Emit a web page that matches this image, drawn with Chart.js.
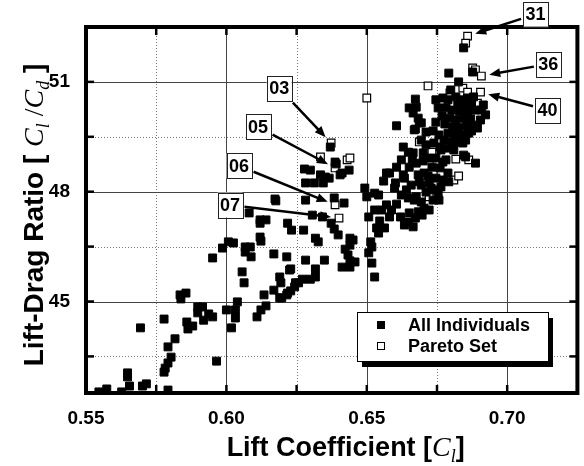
<!DOCTYPE html>
<html>
<head>
<meta charset="utf-8">
<script src="https://cdn.jsdelivr.net/npm/chart.js@4.4.1/dist/chart.umd.min.js"></script>
<style>
  html, body { margin: 0; padding: 0; background: #fff; }
  #wrap { width: 584px; height: 466px; }
</style>
</head>
<body>
<div id="wrap"><canvas id="chart" width="584" height="466"></canvas></div>
<script>
// All individuals: lift coefficient and lift-drag ratio
const allCl = [
  0.5546, 0.5574, 0.5627, 0.5648, 0.5648, 0.5655, 0.5694, 0.5701, 0.5715, 0.5778,
  0.5782, 0.5792, 0.5803, 0.5792, 0.5817, 0.5792, 0.5778, 0.5835, 0.5856, 0.5838,
  0.5859, 0.5880, 0.5863, 0.5898, 0.5915, 0.5898, 0.5937, 0.5951, 0.5919, 0.5965,
  0.5951, 0.5986, 0.6007, 0.6025, 0.6000, 0.6018, 0.6032, 0.6032, 0.6039, 0.6056,
  0.6063, 0.6067, 0.6085, 0.6067, 0.6088, 0.6120, 0.6123, 0.6169, 0.6215, 0.6229,
  0.6190, 0.6194, 0.6169, 0.6197, 0.6218, 0.6246, 0.6134, 0.6109, 0.6123, 0.6141,
  0.6081, 0.6176, 0.6282, 0.6384, 0.6419, 0.6120, 0.6141, 0.6120, 0.6218, 0.6232,
  0.6275, 0.6306, 0.6342, 0.6373, 0.6384, 0.6398, 0.6317, 0.6327, 0.6282, 0.6349,
  0.6451, 0.6440, 0.6423, 0.6433, 0.6440, 0.6458, 0.6412, 0.6440, 0.6514, 0.6507,
  0.6518, 0.6528, 0.6225, 0.6317, 0.6271, 0.6257, 0.6243, 0.6229, 0.6215, 0.6299,
  0.6317, 0.6190, 0.6370, 0.6387, 0.6278, 0.6299, 0.6335, 0.6352, 0.6366, 0.6405,
  0.6282, 0.6313, 0.6345, 0.6173, 0.6437, 0.6412, 0.6391, 0.6606, 0.6673, 0.6687,
  0.6630, 0.6648, 0.6665, 0.6701, 0.6623, 0.6662, 0.6701, 0.6606, 0.6651, 0.6676,
  0.6581, 0.6630, 0.6683, 0.6704, 0.6560, 0.6602, 0.6634, 0.6687, 0.6599, 0.6722,
  0.6711, 0.6729, 0.6676, 0.6694, 0.6704, 0.6493, 0.6500, 0.6528, 0.6542, 0.6606,
  0.6581, 0.6620, 0.6651, 0.6673, 0.6665, 0.6546, 0.6535, 0.6563, 0.6542, 0.6440,
  0.6518, 0.6669, 0.6683, 0.6736, 0.6757, 0.6764, 0.6792, 0.6570, 0.6792, 0.6827,
  0.6799, 0.6673, 0.6651, 0.6676, 0.6665, 0.6683, 0.6694, 0.6669, 0.6845, 0.6877,
  0.6905, 0.6842, 0.6852, 0.6887, 0.6845, 0.6789, 0.6746, 0.6771, 0.6789, 0.6817,
  0.6835, 0.6859, 0.6880, 0.6824, 0.6852, 0.6873, 0.6754, 0.6782, 0.6803, 0.6831,
  0.6859, 0.6884, 0.6908, 0.6768, 0.6796, 0.6817, 0.6845, 0.6870, 0.6746, 0.6778,
  0.6806, 0.6827, 0.6856, 0.6880, 0.6789, 0.6813, 0.6838, 0.6863, 0.6775, 0.6803,
  0.6824, 0.6852, 0.6761, 0.6789, 0.6810, 0.6736, 0.6757, 0.6873, 0.6894, 0.6923,
  0.6915, 0.6711, 0.6739, 0.6764, 0.6718, 0.6746, 0.6771, 0.6732, 0.6761, 0.6782,
  0.6718, 0.6746, 0.6771, 0.6736, 0.6754, 0.6641, 0.6658, 0.6648, 0.6623, 0.6694,
  0.6722, 0.6697, 0.6648, 0.6634, 0.6588, 0.6570, 0.6553, 0.6528, 0.6507, 0.6711,
  0.6694
];
const allLd = [
  42.53, 42.61, 42.53, 43.05, 42.94, 42.69, 44.28, 42.69, 42.75, 43.07,
  43.18, 43.32, 43.48, 43.76, 43.98, 42.58, 44.52, 45.18, 45.23, 45.07,
  44.44, 44.33, 44.25, 44.85, 44.85, 44.69, 44.66, 44.58, 44.49, 43.37,
  46.19, 46.46, 46.63, 46.60, 44.77, 44.28, 44.77, 44.55, 44.99, 45.81,
  45.51, 46.49, 46.49, 46.35, 46.22, 46.76, 46.65, 46.30, 46.22, 45.89,
  45.67, 45.51, 45.31, 45.10, 45.23, 45.51, 45.18, 44.58, 44.77, 44.88,
  47.42, 47.75, 47.77, 47.83, 47.69, 47.23, 47.23, 47.14, 47.14, 46.95,
  46.95, 47.36, 47.31, 47.14, 46.98, 46.82, 46.73, 46.63, 46.13, 46.13,
  46.68, 46.54, 46.43, 46.27, 46.11, 46.08, 45.94, 45.94, 46.63, 46.33,
  46.05, 45.67, 45.86, 45.89, 45.61, 45.51, 45.40, 45.29, 45.18, 45.61,
  45.67, 45.10, 49.22, 48.81, 48.62, 48.59, 48.46, 48.40, 48.37, 48.46,
  48.24, 48.24, 48.24, 47.80, 48.59, 48.51, 48.76, 49.80, 49.71, 49.88,
  49.22, 49.08, 49.06, 49.06, 48.87, 48.89, 48.84, 48.67, 48.67, 48.78,
  48.51, 48.46, 48.46, 48.51, 48.29, 48.24, 48.37, 48.27, 48.10, 48.24,
  47.99, 48.10, 47.86, 47.72, 47.55, 48.10, 47.86, 47.96, 47.91, 47.66,
  47.31, 47.31, 47.42, 47.28, 47.04, 47.20, 47.01, 47.01, 46.87, 46.73,
  46.49, 47.77, 47.45, 47.77, 47.77, 48.13, 48.27, 48.51, 51.24, 51.00,
  50.78, 50.53, 50.29, 50.31, 50.15, 50.01, 49.88, 49.69, 51.93, 51.27,
  49.96, 49.33, 48.95, 48.78, 49.00, 48.51, 50.51, 50.56, 50.51, 50.59,
  50.51, 50.56, 50.59, 50.37, 50.34, 50.40, 50.29, 50.29, 50.23, 50.18,
  50.18, 50.23, 50.23, 50.07, 50.01, 49.96, 50.01, 49.99, 49.90, 49.85,
  49.77, 49.74, 49.80, 49.82, 49.60, 49.55, 49.55, 49.60, 49.41, 49.36,
  49.36, 49.41, 49.22, 49.19, 49.14, 49.66, 49.55, 49.66, 49.74, 50.10,
  50.37, 49.28, 49.33, 49.14, 48.92, 48.92, 48.81, 48.67, 48.65, 48.87,
  48.43, 48.37, 48.32, 48.05, 47.94, 48.05, 48.18, 47.83, 47.91, 48.18,
  47.50, 47.36, 47.17, 47.09, 47.50, 47.64, 47.50, 47.50, 47.31, 49.63,
  49.41
];

// Pareto set
const paretoCl = [
  0.6859, 0.6852, 0.6877, 0.6887, 0.6908, 0.6718, 0.6796, 0.6842, 0.6859, 0.6905,
  0.6806, 0.6894, 0.6842, 0.6687, 0.6732, 0.6750, 0.6764, 0.6810, 0.6827, 0.6817,
  0.6863, 0.6722, 0.6500, 0.6373, 0.6335, 0.6430, 0.6440, 0.6387, 0.6387, 0.6401
];
const paretoLd = [
  52.25, 52.06, 51.38, 51.33, 51.16, 50.89, 50.70, 50.83, 50.72, 50.72,
  50.42, 50.42, 49.77, 49.36, 49.08, 48.76, 48.48, 48.32, 48.43, 48.89,
  48.87, 47.86, 50.56, 49.33, 48.95, 48.87, 48.92, 48.65, 47.64, 47.28
];

// labelled Pareto members (index into the pareto arrays)
const tagNames = ['31', '36', '40', '03', '05', '06', '07'];
const tagIndex = [0, 4, 9, 23, 27, 28, 29];

const seriesNames = ['All Individuals', 'Pareto Set'];

// axis ticks
const xTicks = [0.55, 0.575, 0.6, 0.625, 0.65, 0.675, 0.7];
const xLabels = [0.55, 0.6, 0.65, 0.7];
const yTicks = [43.5, 45, 46.5, 48, 49.5, 51];
const yLabels = [45, 48, 51];

const SANS = 'Arial, "Liberation Sans", sans-serif';
const SERIF = '"Times New Roman", "Liberation Serif", serif';

// where each tag box sits, relative to its point (pixels)
const tagOffsets = [[68, -22], [67, -12], [67, 18], [-52, -55], [-77, -41], [-96, -39], [-109, -13]];

function drawArrow(ctx, x1, y1, x2, y2) {
  const a = Math.atan2(y2 - y1, x2 - x1);
  const hl = 11, hw = 4.5;
  const c = Math.cos(a), s = Math.sin(a);
  ctx.beginPath();
  ctx.moveTo(x1, y1);
  ctx.lineTo(x2 - hl * 0.8 * c, y2 - hl * 0.8 * s);
  ctx.stroke();
  ctx.beginPath();
  ctx.moveTo(x2, y2);
  ctx.lineTo(x2 - hl * c + hw * s, y2 - hl * s - hw * c);
  ctx.lineTo(x2 - hl * c - hw * s, y2 - hl * s + hw * c);
  ctx.closePath();
  ctx.fill();
}

// draw a run of mixed-font text, centred on x=0, baseline y=0
function drawRuns(ctx, runs) {
  let total = 0;
  runs.forEach(r => { ctx.font = r.f; r.w = ctx.measureText(r.t).width; total += r.w; });
  let x = -total / 2;
  ctx.textBaseline = 'alphabetic';
  ctx.textAlign = 'left';
  runs.forEach(r => {
    ctx.font = r.f;
    ctx.fillText(r.t, x, r.dy || 0);
    x += r.w;
  });
}

const framePlugin = {
  id: 'frame',
  beforeDatasetsDraw(chart) {
    const ctx = chart.ctx, a = chart.chartArea;
    const xs = chart.scales.x, ys = chart.scales.y;
    ctx.save();
    ctx.lineWidth = 1;
    xTicks.forEach(v => {
      const px = Math.round(xs.getPixelForValue(v)) + 0.5;
      if (px <= a.left + 2) return;
      const major = xLabels.includes(v);
      ctx.strokeStyle = major ? '#444' : '#777';
      ctx.setLineDash(major ? [] : [1, 2]);
      ctx.beginPath(); ctx.moveTo(px, a.top); ctx.lineTo(px, a.bottom); ctx.stroke();
    });
    yTicks.forEach(v => {
      const py = Math.round(ys.getPixelForValue(v)) + 0.5;
      const major = yLabels.includes(v);
      ctx.strokeStyle = major ? '#444' : '#777';
      ctx.setLineDash(major ? [] : [1, 2]);
      ctx.beginPath(); ctx.moveTo(a.left, py); ctx.lineTo(a.right, py); ctx.stroke();
    });
    ctx.restore();
  },
  afterDatasetsDraw(chart) {
    const ctx = chart.ctx, a = chart.chartArea;
    const xs = chart.scales.x, ys = chart.scales.y;
    ctx.save();
    // frame
    ctx.strokeStyle = '#000';
    ctx.lineWidth = 4;
    ctx.setLineDash([]);
    ctx.strokeRect(a.left, a.top, a.right - a.left, a.bottom - a.top);
    // inward ticks
    ctx.lineWidth = 2.5;
    const tl = 8;
    xTicks.forEach(v => {
      const px = xs.getPixelForValue(v);
      ctx.beginPath(); ctx.moveTo(px, a.bottom); ctx.lineTo(px, a.bottom - tl); ctx.stroke();
      ctx.beginPath(); ctx.moveTo(px, a.top); ctx.lineTo(px, a.top + tl); ctx.stroke();
    });
    yTicks.forEach(v => {
      const py = ys.getPixelForValue(v);
      ctx.beginPath(); ctx.moveTo(a.left, py); ctx.lineTo(a.left + tl, py); ctx.stroke();
      ctx.beginPath(); ctx.moveTo(a.right, py); ctx.lineTo(a.right - tl, py); ctx.stroke();
    });

    // tags with arrows
    const meta = chart.getDatasetMeta(1);
    ctx.fillStyle = '#000';
    ctx.lineWidth = 2.5;
    tagNames.forEach((name, i) => {
      const pt = meta.data[tagIndex[i]];
      const cx = pt.x + tagOffsets[i][0], cy = pt.y + tagOffsets[i][1];
      const bw = 25, bh = 25;
      const dx = pt.x - cx, dy = pt.y - cy;
      const len = Math.hypot(dx, dy);
      const t = Math.min((bw / 2 + 2) / Math.abs(dx), (bh / 2 + 2) / Math.abs(dy));
      const sx = cx + dx * t, sy = cy + dy * t;
      const ex = pt.x - dx / len * 8, ey = pt.y - dy / len * 8;
      ctx.strokeStyle = '#000';
      drawArrow(ctx, sx, sy, ex, ey);
      ctx.fillStyle = '#fff';
      ctx.fillRect(cx - bw / 2, cy - bh / 2, bw, bh);
      ctx.lineWidth = 1;
      ctx.strokeStyle = '#222';
      ctx.strokeRect(Math.round(cx - bw / 2) + 0.5, Math.round(cy - bh / 2) + 0.5, bw, bh);
      ctx.lineWidth = 2.5;
      ctx.fillStyle = '#000';
      ctx.font = 'bold 18px ' + SANS;
      ctx.textAlign = 'center';
      ctx.textBaseline = 'middle';
      ctx.fillText(name, cx, cy + 1);
    });

    // legend with drop shadow
    const lx = a.left + 271, ly = a.top + 285, lw = 191, lh = 49;
    ctx.fillStyle = '#000';
    ctx.fillRect(lx + 5, ly + 6, lw, lh);
    ctx.fillStyle = '#fff';
    ctx.fillRect(lx, ly, lw, lh);
    ctx.lineWidth = 1;
    ctx.strokeStyle = '#000';
    ctx.strokeRect(lx + 0.5, ly + 0.5, lw, lh);
    const rows = [ly + 13, ly + 34];
    ctx.fillStyle = '#000';
    ctx.fillRect(lx + 20, rows[0] - 4, 8, 8);
    ctx.fillStyle = '#fff';
    ctx.fillRect(lx + 20, rows[1] - 4, 8, 8);
    ctx.strokeRect(lx + 20.5, rows[1] - 3.5, 7, 7);
    ctx.fillStyle = '#000';
    ctx.font = 'bold 18px ' + SANS;
    ctx.textAlign = 'left';
    ctx.textBaseline = 'middle';
    ctx.fillText(seriesNames[0], lx + 51, rows[0] + 1);
    ctx.fillText(seriesNames[1], lx + 51, rows[1] + 1);
    ctx.restore();

    // axis titles
    ctx.save();
    ctx.fillStyle = '#000';
    ctx.translate((a.left + a.right) / 2 + 14, 456);
    drawRuns(ctx, [
      { t: 'Lift Coefficient [', f: 'bold 27px ' + SANS },
      { t: 'C', f: 'italic 28px ' + SERIF },
      { t: 'l', f: 'italic 18px ' + SERIF, dy: 6 },
      { t: ']', f: 'bold 27px ' + SANS }
    ]);
    ctx.restore();

    ctx.save();
    ctx.fillStyle = '#000';
    ctx.translate(43, (a.top + a.bottom) / 2 + 5);
    ctx.rotate(-Math.PI / 2);
    drawRuns(ctx, [
      { t: 'Lift-Drag Ratio [ ', f: 'bold 28px ' + SANS },
      { t: 'C', f: 'italic 28px ' + SERIF },
      { t: 'l', f: 'italic 18px ' + SERIF, dy: 6 },
      { t: ' /', f: '28px ' + SERIF },
      { t: 'C', f: 'italic 28px ' + SERIF },
      { t: 'd', f: 'italic 18px ' + SERIF, dy: 6 },
      { t: ' ]', f: 'bold 28px ' + SANS }
    ]);
    ctx.restore();
  }
};

const allData = allCl.map((v, i) => ({ x: v, y: allLd[i] }));
const paretoData = paretoCl.map((v, i) => ({ x: v, y: paretoLd[i] }));

new Chart(document.getElementById('chart'), {
  type: 'scatter',
  data: {
    datasets: [
      {
        label: seriesNames[0],
        data: allData,
        pointStyle: 'rect',
        pointRadius: 5.6,
        backgroundColor: '#000',
        borderColor: '#000',
        borderWidth: 1
      },
      {
        label: seriesNames[1],
        data: paretoData,
        pointStyle: 'rect',
        pointRadius: 5.4,
        backgroundColor: '#fff',
        borderColor: '#000',
        borderWidth: 1.2
      }
    ]
  },
  options: {
    responsive: false,
    animation: false,
    devicePixelRatio: 1,
    layout: { padding: { top: 27, right: 3, left: 0, bottom: 0 } },
    plugins: {
      legend: { display: false },
      tooltip: { enabled: false }
    },
    scales: {
      x: {
        type: 'linear',
        min: 0.55,
        max: 0.725,
        afterBuildTicks: s => { s.ticks = xTicks.map(v => ({ value: v })); },
        afterFit: s => { s.height = 73; },
        grid: { display: false },
        border: { display: false },
        ticks: {
          padding: 6,
          color: '#000',
          font: { family: SANS, size: 19, weight: 'bold' },
          maxRotation: 0,
          autoSkip: false,
          callback: v => xLabels.includes(v) ? v.toFixed(2) : ''
        }
      },
      y: {
        type: 'linear',
        min: 42.5,
        max: 52.5,
        afterBuildTicks: s => { s.ticks = yTicks.map(v => ({ value: v })); },
        afterFit: s => { s.width = 86; },
        grid: { display: false },
        border: { display: false },
        ticks: {
          padding: 8,
          color: '#000',
          font: { family: SANS, size: 19, weight: 'bold' },
          autoSkip: false,
          callback: v => yLabels.includes(v) ? String(v) : ''
        }
      }
    }
  },
  plugins: [framePlugin]
});
</script>
</body>
</html>
